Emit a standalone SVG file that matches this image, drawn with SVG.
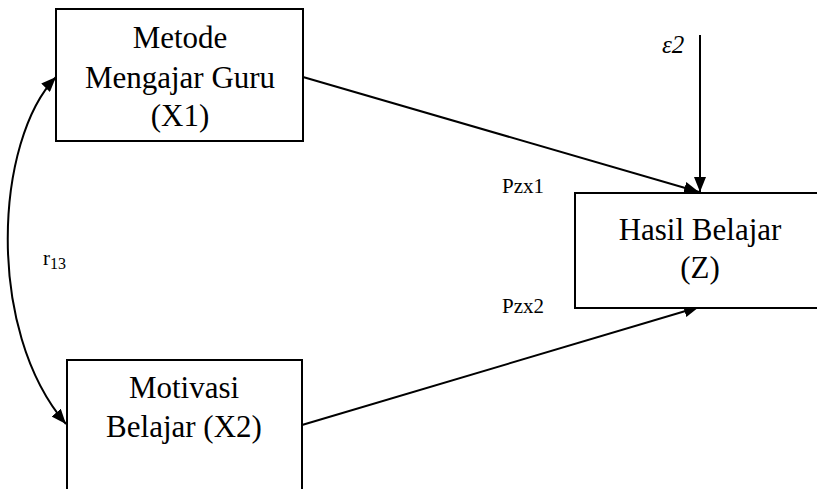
<svg xmlns="http://www.w3.org/2000/svg" width="817" height="489" viewBox="0 0 817 489">
<defs>
<style>
.box{fill:#fff;stroke:#000;stroke-width:2}
.t{font-family:'Liberation Serif','Times New Roman',serif;font-size:31px;fill:#000;text-anchor:middle}
.s{font-family:'Liberation Serif','Times New Roman',serif;font-size:21px;fill:#000}
.c{fill:none;stroke:#000;stroke-width:2}
</style>
<marker id="ah" markerWidth="16" markerHeight="12" refX="15" refY="6" orient="auto-start-reverse" markerUnits="userSpaceOnUse">
<path d="M0,0 L15,6 L0,12 Z" fill="#000"/>
</marker>
</defs>
<rect width="817" height="489" fill="#fff"/>
<g id="connectors">
<path class="c" d="M56,77 C-5,140 -15,330 66,424" marker-start="url(#ah)" marker-end="url(#ah)"/>
<line class="c" x1="303" y1="77" x2="699" y2="192" marker-end="url(#ah)"/>
<line class="c" x1="302" y1="425" x2="699" y2="307" marker-end="url(#ah)"/>
<line class="c" x1="700" y1="35" x2="700" y2="192" marker-end="url(#ah)"/>
</g>
<g id="x1">
<rect class="box" x="56" y="9" width="247" height="132"/>
<text class="t" x="180" y="48">Metode</text>
<text class="t" x="180" y="88">Mengajar Guru</text>
<text class="t" x="180" y="126">(X1)</text>
</g>
<g id="x2">
<rect class="box" x="67" y="360" width="235" height="150"/>
<text class="t" x="184" y="398">Motivasi</text>
<text class="t" x="184" y="437">Belajar (X2)</text>
</g>
<g id="z">
<rect class="box" x="575" y="193" width="260" height="115"/>
<text class="t" x="700" y="240">Hasil Belajar</text>
<text class="t" x="700" y="278">(Z)</text>
</g>
<g id="labels">
<text class="s" x="502" y="193">Pzx1</text>
<text class="s" x="502" y="313">Pzx2</text>
<text class="s" x="43" y="265">r<tspan font-size="16" dy="4">13</tspan></text>
<text class="s" x="662" y="53" style="font-size:25px;font-style:italic">ε2</text>
</g>
</svg>
